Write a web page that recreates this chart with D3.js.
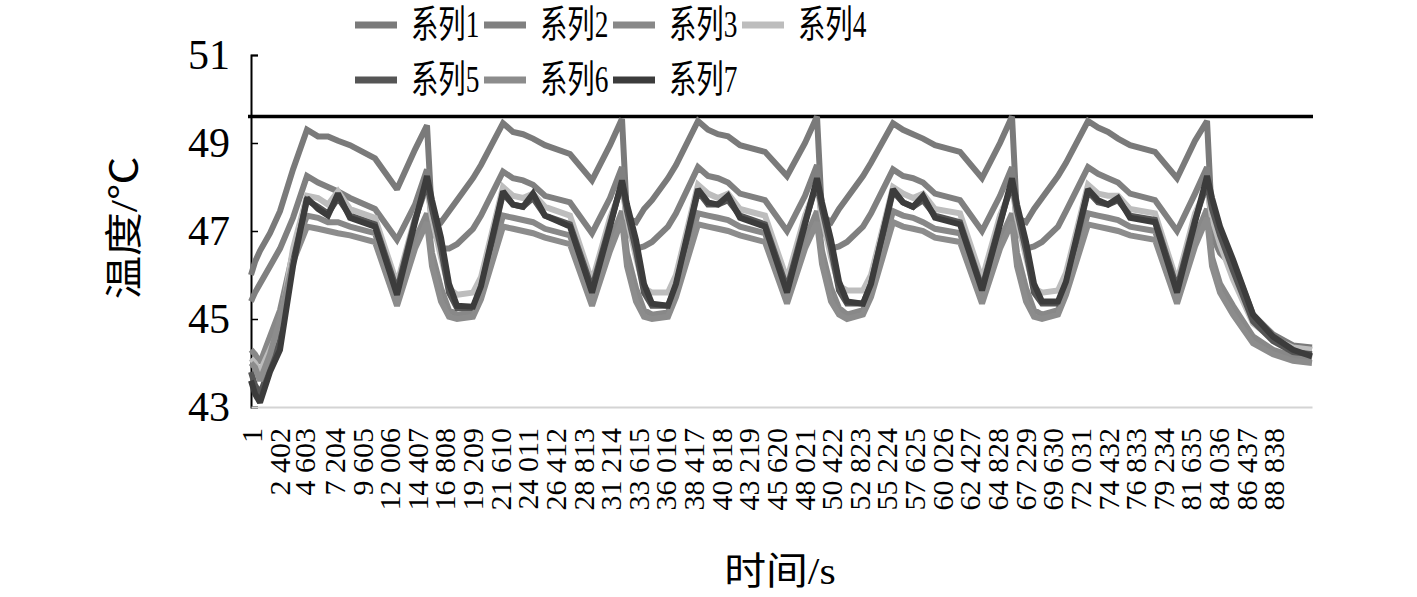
<!DOCTYPE html>
<html><head><meta charset="utf-8">
<script src="https://cdn.jsdelivr.net/npm/d3@7/dist/d3.min.js"></script>
<style>
html,body{margin:0;padding:0;background:#fff;}
svg{display:block;}
</style></head>
<body>
<svg id="chart" width="1417" height="597"></svg>
<script>
// ---------------- DATA ----------------
const seriesNames = ["系列1","系列2","系列3","系列4","系列5","系列6","系列7"];
const seriesColors = ["#7a7a7a","#808080","#888888","#bdbdbd","#555555","#8c8c8c","#3c3c3c"];

// time (s) of the sampled key points
const timeKeys = [
  1,348,782,1651,2520,3650,4866,5822,6691,7560,8603,10776,12687,14252,
  15294,15729,16511,17206,17901,19291,19987,21898,22767,23636,24505,25548,27721,29633,31197,
  32240,32675,33457,34152,34847,36237,36933,38844,39713,40582,41451,42494,44667,46579,48143,
  49186,49621,50403,51098,51793,53183,53879,55790,56659,57528,58397,59440,61613,63525,65089,
  66132,66567,67349,68044,68739,70129,70825,72736,73605,74474,75343,76386,78559,80471,82035,
  83078,83513,84208,85338,87076,88814,90552,92200
];

const s1 = [
  46.0,46.3,46.55,46.95,47.45,48.4,49.3,49.15,49.15,49.05,48.95,48.65,47.95,48.85,
  49.4,47.3,47.2,47.45,47.7,48.2,48.5,49.45,49.25,49.2,49.1,48.95,48.75,48.15,48.95,
  49.55,47.3,47.2,47.5,47.7,48.2,48.5,49.5,49.3,49.2,49.15,48.95,48.8,48.25,49.0,
  49.6,47.35,47.2,47.5,47.75,48.25,48.55,49.45,49.3,49.2,49.1,48.95,48.8,48.2,49.0,
  49.6,47.3,47.2,47.5,47.75,48.25,48.55,49.5,49.35,49.25,49.1,48.95,48.8,48.2,49.05,
  49.5,47.2,46.6,46.3,45.1,44.65,44.4,44.35
];
const s2 = [
  45.4,45.6,45.8,46.2,46.6,47.3,48.25,48.1,48.0,47.9,47.75,47.5,46.8,47.6,
  48.4,47.1,46.6,46.6,46.7,47.05,47.35,48.35,48.2,48.15,48.05,47.8,47.65,46.95,47.75,
  48.45,47.1,46.6,46.65,46.75,47.1,47.4,48.45,48.25,48.2,48.1,47.85,47.7,47.0,47.8,
  48.5,47.15,46.6,46.65,46.75,47.1,47.4,48.4,48.25,48.2,48.1,47.85,47.7,47.0,47.8,
  48.45,47.1,46.6,46.65,46.75,47.1,47.45,48.45,48.3,48.2,48.1,47.85,47.7,47.0,47.85,
  48.45,46.9,46.5,46.2,45.0,44.6,44.35,44.3
];
const s3 = [
  44.3,44.2,44.0,44.6,45.2,46.5,47.35,47.3,47.2,47.2,47.1,46.95,45.45,46.8,
  47.4,46.5,45.7,45.2,45.1,45.15,45.6,47.35,47.3,47.25,47.2,47.05,46.9,45.45,46.75,
  47.45,46.5,45.7,45.2,45.1,45.15,45.65,47.4,47.35,47.3,47.25,47.1,46.95,45.5,46.8,
  47.45,46.55,45.7,45.25,45.1,45.2,45.65,47.45,47.35,47.3,47.2,47.05,46.95,45.5,46.8,
  47.4,46.5,45.7,45.2,45.1,45.2,45.7,47.4,47.35,47.3,47.25,47.1,47.0,45.5,46.85,
  47.5,46.4,45.8,45.3,44.6,44.3,44.15,44.1
];
const s4 = [
  44.1,44.0,43.8,44.3,44.8,46.6,47.8,47.75,47.6,47.9,47.5,47.3,45.8,47.3,
  48.0,47.3,46.4,45.7,45.55,45.6,45.95,48.0,47.8,47.75,47.85,47.55,47.35,45.85,47.3,
  48.0,47.3,46.4,45.7,45.6,45.6,46.0,48.05,47.85,47.75,47.85,47.5,47.35,45.9,47.35,
  48.05,47.35,46.4,45.75,45.65,45.65,46.0,48.0,47.85,47.75,47.85,47.5,47.4,45.9,47.35,
  48.0,47.3,46.4,45.7,45.6,45.65,46.05,48.05,47.85,47.8,47.8,47.5,47.4,45.85,47.4,
  48.0,47.3,46.7,45.9,44.9,44.55,44.35,44.3
];
const s5 = [
  43.8,43.5,43.3,43.9,44.5,46.3,47.7,47.55,47.4,47.75,47.35,47.15,45.65,47.25,
  48.1,47.5,46.6,45.6,45.25,45.25,45.7,47.85,47.6,47.55,47.75,47.35,47.15,45.7,47.15,
  48.1,47.45,46.55,45.6,45.3,45.3,45.75,47.9,47.6,47.6,47.7,47.35,47.15,45.7,47.2,
  48.1,47.5,46.6,45.65,45.35,45.35,45.8,47.9,47.65,47.55,47.7,47.35,47.2,45.7,47.2,
  48.1,47.45,46.55,45.6,45.35,45.35,45.8,47.9,47.65,47.6,47.7,47.35,47.25,45.7,47.25,
  48.1,47.5,46.9,46.1,44.95,44.5,44.25,44.2
];
const s6 = [
  44.0,43.9,43.6,44.2,45.0,46.3,47.1,47.05,47.0,46.95,46.9,46.75,45.3,46.6,
  47.2,46.2,45.4,45.05,45.0,45.05,45.45,47.1,47.05,47.0,46.95,46.85,46.7,45.3,46.55,
  47.25,46.2,45.4,45.05,45.0,45.05,45.5,47.15,47.1,47.05,47.0,46.9,46.75,45.35,46.6,
  47.2,46.25,45.4,45.1,45.0,45.1,45.5,47.2,47.1,47.05,47.0,46.85,46.75,45.35,46.6,
  47.2,46.2,45.4,45.05,45.0,45.1,45.55,47.15,47.1,47.05,47.0,46.9,46.8,45.35,46.65,
  47.3,46.2,45.6,45.1,44.45,44.2,44.05,44.0
];
const s7 = [
  43.6,43.3,43.1,43.8,44.3,46.2,47.75,47.5,47.35,47.85,47.3,47.1,45.55,47.2,
  48.25,47.7,46.85,45.8,45.3,45.28,45.75,47.9,47.6,47.55,47.85,47.35,47.1,45.6,47.1,
  48.15,47.6,46.8,45.8,45.35,45.3,45.8,47.95,47.65,47.6,47.8,47.3,47.1,45.6,47.15,
  48.2,47.65,46.8,45.85,45.4,45.35,45.8,47.95,47.65,47.55,47.8,47.3,47.15,45.65,47.15,
  48.2,47.6,46.75,45.8,45.4,45.4,45.85,47.95,47.7,47.6,47.75,47.3,47.2,45.6,47.2,
  48.25,47.75,47.1,46.35,45.1,44.6,44.3,44.15
];
const seriesValues = [s1,s2,s3,s4,s5,s6,s7];

const limitValue = 49.6;
const timeMax = 92200;
const yTicks = [43,45,47,49,51];
const xTickValues = [1,2402,4603,7204,9605,12006,14407,16808,19209,21610,24011,26412,28813,31214,
  33615,36016,38417,40818,43219,45620,48021,50422,52823,55224,57625,60026,62427,64828,67229,
  69630,72031,74432,76833,79234,81635,84036,86437,88838];
const xTitle = "时间/s";
const yTitle = "温度/℃";

// ---------------- CHART ----------------
const svg = d3.select("#chart");
const serif = "'Liberation Serif','Times New Roman','Noto Sans CJK SC',serif";
const margin = {left:251, right:1417-1312, top:55, bottom:597-407};
const W = 1417, H = 597;

const x = d3.scaleLinear().domain([0,timeMax]).range([margin.left, W-margin.right]);
const y = d3.scaleLinear().domain([43,51]).range([H-margin.bottom, margin.top]);

// y axis
const yAxis = svg.append("g").attr("transform",`translate(${margin.left},0)`)
  .call(d3.axisLeft(y).tickValues(yTicks).tickSize(-7).tickPadding(21).tickFormat(d3.format("d")));
yAxis.attr("font-family",serif);
yAxis.select(".domain").attr("stroke","#000").attr("stroke-width",2);
yAxis.selectAll(".tick line").attr("stroke","#000").attr("stroke-width",1.5);
yAxis.selectAll(".tick text").attr("font-family",serif).attr("font-size",42).attr("fill","#000");

// x axis
const fmt = n => n >= 1000 ? Math.floor(n/1000) + " " + String(n%1000).padStart(3,"0") : String(n);
const xAxis = svg.append("g").attr("transform",`translate(0,${y(43)})`)
  .call(d3.axisBottom(x).tickValues(xTickValues).tickSize(0).tickFormat(fmt));
xAxis.attr("font-family",serif);
xAxis.select(".domain").attr("stroke","#d4d4d4").attr("stroke-width",2);
xAxis.selectAll(".tick text")
  .attr("font-family",serif).attr("font-size",30).attr("fill","#000")
  .attr("text-anchor","end")
  .attr("transform","rotate(-90)")
  .attr("x",-21).attr("y",0).attr("dy","0.35em");

// limit line
svg.append("line")
  .attr("x1",x.range()[0]-3).attr("x2",x.range()[1]+1)
  .attr("y1",y(limitValue)).attr("y2",y(limitValue))
  .attr("stroke","#000").attr("stroke-width",3.5);

// series lines
const line = d3.line().x((d,i)=>x(timeKeys[i])).y(d=>y(d));
seriesValues.forEach((vals,k)=>{
  svg.append("path").datum(vals)
    .attr("d",line)
    .attr("fill","none")
    .attr("stroke",seriesColors[k])
    .attr("stroke-width",6)
    .attr("stroke-linejoin","miter")
    .attr("stroke-miterlimit",2);
});

// legend
const leg = svg.append("g");
seriesNames.forEach((name,i)=>{
  const col = i % 4, row = Math.floor(i/4);
  const gx = 355 + col*129, gy = 25 + row*55;
  leg.append("line").attr("x1",gx).attr("x2",gx+42).attr("y1",gy).attr("y2",gy)
    .attr("stroke",seriesColors[i]).attr("stroke-width",7);
  leg.append("text")
    .attr("transform",`translate(${gx+56},${gy+12}) scale(0.72,1)`)
    .attr("font-family",serif).attr("font-size",38)
    .attr("fill","#000").text(name);
});

// axis titles
svg.append("text").attr("transform","translate(780,584) scale(1.1,1)").attr("text-anchor","middle")
  .attr("font-family",serif).attr("font-size",38)
  .attr("fill","#000").text(xTitle);
svg.append("text").attr("transform","translate(137,228) rotate(-90) scale(1.15,1)").attr("text-anchor","middle")
  .attr("font-family",serif).attr("font-size",38)
  .attr("fill","#000").text(yTitle);
</script>
</body></html>
